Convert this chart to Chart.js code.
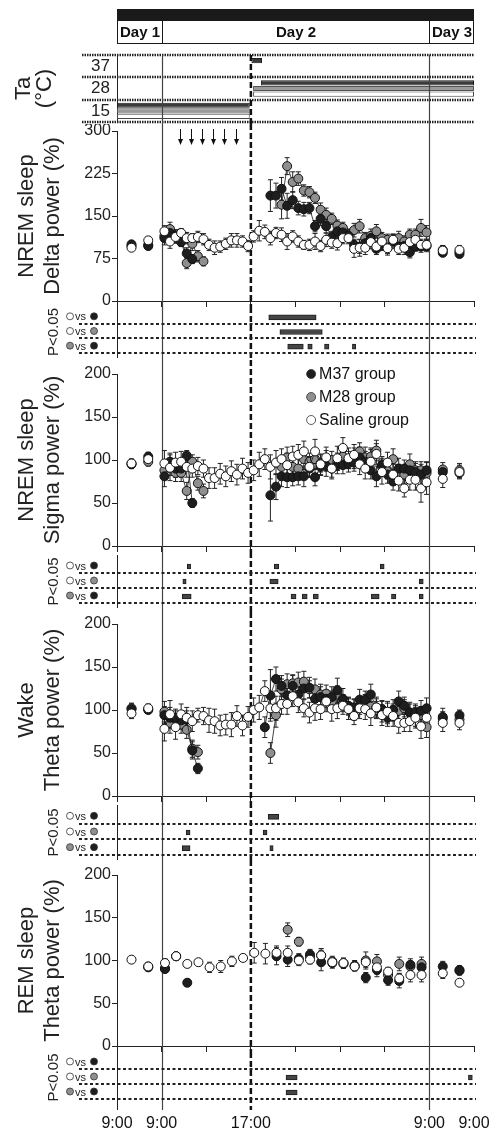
<!DOCTYPE html>
<html>
<head>
<meta charset="utf-8">
<script src="https://cdn.jsdelivr.net/npm/chart.js@4.4.1/dist/chart.umd.min.js"></script>
<style>
  html, body { margin: 0; padding: 0; background: #fff; }
  #wrap { position: relative; width: 496px; height: 1130px; overflow: hidden; }
  #wrap canvas { position: absolute; left: 0; }
</style>
</head>
<body>
<div id="wrap">
  <canvas id="taChart" width="496" height="124" style="top:0px"></canvas>
  <canvas id="deltaChart" width="496" height="183" style="top:124px"></canvas>
  <canvas id="deltaSig" width="496" height="53" style="top:307px"></canvas>
  <canvas id="sigmaChart" width="496" height="192" style="top:360px"></canvas>
  <canvas id="sigmaSig" width="496" height="60" style="top:552px"></canvas>
  <canvas id="wakeChart" width="496" height="190" style="top:612px"></canvas>
  <canvas id="wakeSig" width="496" height="58" style="top:802px"></canvas>
  <canvas id="remChart" width="496" height="192" style="top:860px"></canvas>
  <canvas id="remSig" width="496" height="78" style="top:1052px"></canvas>
</div>
<script>
const FONT = '"Liberation Sans", Arial, Helvetica, sans-serif';

// ---- time axis (hours from left edge; Day 1 / Day 3 compressed) ----
const day1Times = [1.3, 2.8];
const day3Times = [29.2, 30.7];
const halfHourStart = 4.25;   // first 30-min bin of Day 2
const remHourStart = 4.3;     // first 1-h bin of Day 2 (REM)
const dayBoundaries = [4, 28];
const lightsOff = 12;         // 17:00
const xTickHours = [0, 4, 12, 28, 32];
const xTickLabels = ['9:00', '9:00', '17:00', '9:00', '9:00'];
const arrowTimes = [5.65, 6.65, 7.6, 8.6, 9.6, 10.65];

// ---- ambient temperature bars ----
const taLabels = ['37', '28', '15'];
const taM37 = [[12.05, 13.0], [12.9, 32], [0, 11.9]];
const taM28 = [null, [12.2, 32], [0, 11.9]];
const taSaline = [null, [12.2, 32], [0, 11.9]];

// ---- NREM delta power (%) : day1 x2, day2 x48, day3 x2 ----
const deltaM37 = [
  100, 97,
  111, 120, 116, 104, 84, 74, null, null, null, null, null, null,
  null, null, null, null, null, null, null, 186, 186, 198, 168, 178,
  164, 162, 164, 132, 145, 132, 113, 123, 121, 115, 99, 96,
  102, 111, 92, 99, 94, 105, 96, 97, 86, 96, 96, 97,
  85, 83
];
const deltaM28 = [
  97, 99,
  115, 127, 112, 108, 67, 101, 79, 70, null, null, null, null,
  null, null, null, null, null, null, null, null, null, 170, 238, 210,
  216, 195, 192, 182, 161, 152, 145, 133, 129, 117, 125, 132,
  111, 115, 123, 111, 108, 108, 111, 105, 117, 117, 129, 121,
  90, 87
];
const deltaSaline = [
  94, 107,
  123, 105, 113, 120, 111, 111, 113, 109, 99, 94, 96, 101,
  107, 107, 105, 97, 114, 124, 122, 111, 120, 117, 105, 114,
  105, 99, 99, 105, 97, 108, 103, 102, 111, 111, 92, 94,
  94, 104, 96, 105, 93, 108, 92, 94, 104, 108, 99, 99,
  89, 90
];
const deltaM37Err = [
  6, 5,
  12, 10, 10, 8, 10, 8, 0, 0, 0, 0, 0, 0,
  0, 0, 0, 0, 0, 0, 0, 28, 22, 20, 22, 15,
  12, 12, 10, 10, 12, 12, 10, 12, 10, 10, 10, 12,
  12, 10, 10, 10, 10, 12, 10, 10, 10, 8, 10, 10,
  6, 6
];
const deltaM28Err = [
  5, 5,
  10, 12, 10, 10, 10, 12, 10, 8, 0, 0, 0, 0,
  0, 0, 0, 0, 0, 0, 0, 0, 0, 25, 15, 18,
  12, 10, 10, 10, 12, 12, 10, 10, 10, 10, 12, 12,
  10, 12, 12, 10, 10, 10, 12, 10, 10, 10, 15, 12,
  8, 6
];
const deltaSalineErr = [
  5, 5,
  10, 12, 10, 8, 10, 8, 10, 10, 10, 12, 10, 10,
  12, 12, 10, 10, 10, 18, 12, 12, 10, 12, 14, 10,
  10, 8, 10, 14, 10, 12, 10, 12, 10, 10, 15, 15,
  12, 12, 10, 12, 12, 10, 10, 12, 10, 12, 10, 10,
  8, 8
];

// ---- NREM sigma power (%) ----
const sigmaM37 = [
  95, 104,
  81, 98, 90, 90, 105, 50, null, null, null, null, null, null,
  null, null, null, null, null, null, null, 59, 69, 81, 80, 80,
  81, 81, 90, 80, 92, 93, 90, 94, 94, 96, 97, 103,
  98, 88, 81, 94, 83, 75, 90, 90, 88, 86, 83, 88,
  86, 85
];
const sigmaM28 = [
  96, 98,
  88, 92, 85, 85, 64, 98, 73, 64, null, null, null, null,
  null, null, null, null, null, null, null, null, null, 92, 103, 92,
  90, 101, 98, 101, 96, 99, 100, 98, 104, 100, 102, 110,
  103, 104, 111, 92, 88, 101, 85, 83, 95, 88, 88, 85,
  89, 88
];
const sigmaSaline = [
  96, 101,
  96, 91, 97, 98, 92, 90, 93, 90, 79, 79, 84, 81,
  87, 83, 90, 85, 88, 95, 101, 92, 97, 101, 94, 104,
  106, 110, 92, 110, 95, 103, 90, 102, 114, 102, 106, 95,
  90, 98, 107, 86, 97, 83, 76, 67, 77, 77, 67, 74,
  78, 86
];
const sigmaM37Err = [
  5, 5,
  12, 10, 10, 10, 6, 5, 0, 0, 0, 0, 0, 0,
  0, 0, 0, 0, 0, 0, 0, 30, 15, 12, 12, 10,
  10, 12, 10, 10, 10, 12, 10, 10, 10, 10, 10, 12,
  12, 10, 12, 10, 10, 10, 12, 10, 10, 10, 12, 10,
  6, 6
];
const sigmaM28Err = [
  5, 5,
  10, 10, 10, 10, 10, 8, 8, 8, 0, 0, 0, 0,
  0, 0, 0, 0, 0, 0, 0, 0, 0, 12, 12, 12,
  12, 12, 10, 12, 10, 12, 10, 10, 12, 10, 12, 10,
  12, 10, 12, 10, 10, 12, 10, 10, 12, 10, 10, 12,
  8, 8
];
const sigmaSalineErr = [
  5, 5,
  15, 15, 12, 12, 12, 10, 10, 10, 12, 12, 12, 12,
  12, 12, 12, 12, 12, 14, 12, 14, 14, 12, 14, 12,
  12, 12, 12, 14, 12, 12, 12, 14, 12, 12, 12, 12,
  12, 14, 12, 14, 12, 12, 12, 10, 12, 12, 16, 14,
  10, 8
];

// ---- Wake theta power (%) ----
const wakeM37 = [
  101, 100,
  94, 91, 91, 88, 89, 53, 32, null, null, null, null, null,
  null, null, null, null, null, null, 80, 117, 136, 128, 117, 128,
  118, 125, 126, 113, 115, 113, 115, 123, 113, 105, 103, 112,
  112, 118, 103, 101, 91, 100, 110, 105, 97, 97, 99, 102,
  92, 94
];
const wakeM28 = [
  102, 101,
  98, 85, 89, 83, 77, 55, 51, null, null, null, null, null,
  null, null, null, null, null, null, null, 50, 94, 124, 130, 131,
  132, 133, 124, 124, 118, 119, 110, 118, 108, 104, 100, 105,
  108, 104, 100, 98, 96, 97, 99, 102, 97, 93, 94, 80,
  90, 89
];
const wakeSaline = [
  96, 102,
  78, 95, 80, 95, 91, 87, 94, 93, 88, 87, 82, 83,
  83, 93, 82, 92, 100, 103, 122, 102, 102, 107, 107, 116,
  109, 102, 97, 102, 101, 110, 101, 102, 105, 101, 93, 102,
  101, 96, 103, 94, 98, 93, 85, 85, 87, 91, 81, 91,
  85, 85
];
const wakeM37Err = [
  6, 4,
  10, 12, 10, 10, 10, 10, 6, 0, 0, 0, 0, 0,
  0, 0, 0, 0, 0, 0, 12, 30, 14, 12, 12, 12,
  10, 12, 12, 10, 12, 10, 12, 14, 12, 10, 10, 12,
  10, 12, 10, 10, 10, 12, 12, 10, 10, 10, 12, 12,
  10, 6
];
const wakeM28Err = [
  6, 4,
  12, 12, 10, 10, 10, 10, 8, 0, 0, 0, 0, 0,
  0, 0, 0, 0, 0, 0, 0, 12, 14, 12, 12, 10,
  12, 12, 10, 12, 12, 10, 12, 10, 10, 10, 12, 10,
  10, 12, 10, 12, 12, 10, 10, 10, 12, 12, 10, 12,
  8, 8
];
const wakeSalineErr = [
  6, 5,
  14, 16, 14, 12, 12, 12, 8, 10, 14, 14, 12, 12,
  14, 12, 12, 12, 14, 14, 12, 12, 14, 12, 12, 12,
  12, 10, 12, 14, 12, 12, 14, 12, 10, 12, 10, 12,
  12, 14, 12, 12, 12, 12, 12, 10, 12, 12, 14, 14,
  10, 8
];

// ---- REM theta power (%) : day1 x2, day2 x24 (1 h), day3 x2 ----
const remM37 = [
  null, 92,
  90, 105, 74, null, null, null, null, null, null, null, 105, 101,
  102, 107, 98, 97, 96, 93, 80, 89, 77, 76, 95, 92,
  93, 88
];
const remM28 = [
  null, 93,
  91, 105, null, null, null, null, null, null, null, null, null, 136,
  122, 105, 106, 99, 97, 94, 100, 99, 83, 96, 93, 96,
  null, 89
];
const remSaline = [
  101, 93,
  97, 105, 96, 98, 92, 93, 99, 103, 109, 108, 109, 109,
  100, 101, 106, 98, 97, 93, 98, 92, 87, 79, 83, 83,
  85, 74
];
const remM37Err = [
  0, 4,
  4, 4, 4, 0, 0, 0, 0, 0, 0, 0, 10, 8,
  6, 6, 10, 6, 5, 5, 6, 8, 6, 8, 7, 6,
  6, 5
];
const remM28Err = [
  0, 4,
  4, 4, 0, 0, 0, 0, 0, 0, 0, 0, 0, 8,
  5, 6, 8, 6, 6, 6, 10, 8, 6, 8, 6, 8,
  0, 5
];
const remSalineErr = [
  4, 4,
  5, 4, 4, 4, 6, 7, 6, 4, 12, 12, 8, 8,
  6, 5, 6, 5, 5, 5, 6, 8, 5, 6, 8, 8,
  6, 4
];

// ---- P<0.05 intervals (hours) ----
const sigRows = ['Saline vs M37', 'Saline vs M28', 'M28 vs M37'];
const deltaSigSalVsM37 = [[13.6, 17.85]];
const deltaSigSalVsM28 = [[14.6, 18.4]];
const deltaSigM28VsM37 = [[15.3, 16.7], [17.1, 17.5], [18.6, 19.0], [21.1, 21.4]];
const sigmaSigSalVsM37 = [[6.3, 6.6], [14.1, 14.5], [23.6, 23.95]];
const sigmaSigSalVsM28 = [[5.9, 6.2], [13.7, 14.45], [27.1, 27.45]];
const sigmaSigM28VsM37 = [[5.85, 6.65], [15.6, 16.05], [16.6, 17.05], [17.6, 18.05], [22.8, 23.5], [24.6, 25.0], [27.1, 27.45]];
const wakeSigSalVsM37 = [[13.55, 14.5]];
const wakeSigSalVsM28 = [[6.2, 6.55], [13.1, 13.45]];
const wakeSigM28VsM37 = [[5.85, 6.55], [13.7, 14.0]];
const remSigSalVsM37 = [];
const remSigSalVsM28 = [[15.15, 16.15], [31.5, 31.85]];
const remSigM28VsM37 = [[15.15, 16.15]];

const groupNames = ['M37 group', 'M28 group', 'Saline group'];
const BLACK = '#1e1e1e', GRAY = '#8f8f8f', WHITE = '#ffffff';
const pairFills = [[WHITE, BLACK], [WHITE, GRAY], [GRAY, BLACK]];

Chart.defaults.font.family = FONT;
Chart.defaults.color = '#222';
Chart.defaults.animation = false;
Chart.defaults.responsive = false;
Chart.defaults.events = [];
Chart.defaults.plugins.legend.display = false;
Chart.defaults.plugins.tooltip.enabled = false;

const halfHourTimes = Array.from({length: 48}, (_, i) => halfHourStart + 0.5 * i);
const hourTimes = Array.from({length: 24}, (_, i) => remHourStart + i);
const mainTimes = [...day1Times, ...halfHourTimes, ...day3Times];
const remTimes = [...day1Times, ...hourTimes, ...day3Times];

// fixed-width left axis, no extra label padding, so every panel lines up
function fixLeftAxis(s) {
  s.width = 117;
  s.paddingTop = 0;
  s.paddingBottom = 0;
}

// points with breaks so Day 1 / Day 3 points stay unconnected
function toPoints(times, values, errors) {
  const pts = [];
  times.forEach((t, k) => {
    pts.push({x: t, y: values[k], e: errors[k]});
    if (k < 2 || k >= times.length - 3) pts.push({x: t + 0.05, y: null, e: 0});
  });
  return pts;
}

function series(label, times, values, errors, fill, order, showLine) {
  return {
    label: label,
    data: toPoints(times, values, errors),
    order: order,
    showLine: showLine,
    borderColor: '#111',
    borderWidth: 0.8,
    pointRadius: 4.5,
    pointBackgroundColor: fill,
    pointBorderColor: '#111',
    pointBorderWidth: 1,
    spanGaps: false,
    tension: 0
  };
}

function dot(ctx, x, y, r, fill) {
  ctx.beginPath();
  ctx.arc(x, y, r, 0, Math.PI * 2);
  ctx.fillStyle = fill;
  ctx.fill();
  ctx.lineWidth = 0.8;
  ctx.strokeStyle = '#333';
  ctx.stroke();
}

// vertical day boundaries and the dashed 17:00 line
function verticalLines(fromArea, bottom, after) {
  const draw = (chart) => {
    const {ctx, chartArea: a} = chart;
    const x = chart.scales.x;
    const y0 = fromArea ? a.top : 0;
    const y1 = bottom != null ? bottom : chart.height;
    ctx.save();
    ctx.strokeStyle = '#444';
    ctx.lineWidth = 1.2;
    dayBoundaries.forEach(t => {
      const px = Math.round(x.getPixelForValue(t)) + 0.5;
      ctx.beginPath(); ctx.moveTo(px, y0); ctx.lineTo(px, y1); ctx.stroke();
    });
    ctx.strokeStyle = '#111';
    ctx.lineWidth = 2.5;
    ctx.setLineDash([6, 3]);
    const dx = x.getPixelForValue(lightsOff);
    ctx.beginPath(); ctx.moveTo(dx, y0); ctx.lineTo(dx, y1); ctx.stroke();
    ctx.restore();
  };
  return after ? {id: 'vlines', afterDatasetsDraw: draw} : {id: 'vlines', beforeDatasetsDraw: draw};
}

const errorBars = {
  id: 'errorBars',
  beforeDatasetsDraw(chart) {
    const {ctx} = chart;
    const ys = chart.scales.y;
    ctx.save();
    ctx.strokeStyle = '#222';
    ctx.lineWidth = 1;
    chart.data.datasets.forEach((ds, i) => {
      const meta = chart.getDatasetMeta(i);
      ds.data.forEach((p, j) => {
        if (p.y == null || !p.e) return;
        const el = meta.data[j];
        if (!el) return;
        const px = el.x;
        const t = ys.getPixelForValue(p.y + p.e);
        const b = ys.getPixelForValue(p.y - p.e);
        ctx.beginPath();
        ctx.moveTo(px, t); ctx.lineTo(px, b);
        ctx.moveTo(px - 2.5, t); ctx.lineTo(px + 2.5, t);
        ctx.moveTo(px - 2.5, b); ctx.lineTo(px + 2.5, b);
        ctx.stroke();
      });
    });
    ctx.restore();
  }
};

const xMain = {
  type: 'linear', min: 0, max: 32,
  ticks: {display: false, stepSize: 4},
  grid: {drawOnChartArea: false, tickLength: 6, color: '#222'},
  border: {color: '#222'},
  afterFit(s) { s.height = 6; }
};

function yMain(lines, max, step) {
  return {
    min: 0, max: max,
    ticks: {stepSize: step, font: {size: 16}, padding: 1, color: '#222'},
    grid: {drawOnChartArea: false, tickLength: 5, color: '#222'},
    border: {color: '#222'},
    title: {display: true, text: lines, color: '#222', font: {size: 22, lineHeight: 1.18}, padding: {top: 14, bottom: 0}},
    afterFit: fixLeftAxis
  };
}

function mainPanel(id, lines, max, step, sets, padTop, extra) {
  return new Chart(document.getElementById(id), {
    type: 'line',
    data: {datasets: sets},
    options: {
      layout: {padding: {left: 0, right: 22, top: padTop, bottom: 0}},
      scales: {x: xMain, y: yMain(lines, max, step)}
    },
    plugins: [verticalLines(false, null, false), errorBars].concat(extra || [])
  });
}

function sigPanel(id, rows, padTop, padBottom, lastPanel) {
  const n = Math.max(1, ...rows.map(r => r.length));
  const sets = [];
  for (let k = 0; k < n; k++) {
    sets.push({
      data: rows.map(r => r[k] || null),
      backgroundColor: '#454545',
      borderColor: '#1e1e1e',
      borderWidth: 1,
      borderSkipped: false,
      barThickness: 5,
      grouped: false
    });
  }
  const x = lastPanel ? {
    type: 'linear', min: 0, max: 32,
    afterBuildTicks(s) { s.ticks = xTickHours.map(v => ({value: v})); },
    ticks: {
      autoSkip: false, maxRotation: 0, padding: 14, color: '#111', font: {size: 16},
      callback: (v) => xTickLabels[xTickHours.indexOf(v)]
    },
    grid: {display: false, drawTicks: false},
    border: {display: false},
    afterFit(s) { s.height = 30; s.paddingLeft = 0; s.paddingRight = 0; }
  } : {type: 'linear', min: 0, max: 32, display: false};

  const extendBottom = lastPanel ? 10 : 4;
  const decor = {
    id: 'sigDecor',
    beforeDatasetsDraw(chart) {
      const {ctx, chartArea: a} = chart;
      const h = (a.bottom - a.top) / 3;
      ctx.save();
      ctx.strokeStyle = '#222';
      ctx.lineWidth = 1;
      ctx.beginPath();
      ctx.moveTo(a.left + 0.5, a.top - 4);
      ctx.lineTo(a.left + 0.5, a.bottom + extendBottom);
      ctx.stroke();
      ctx.setLineDash([3, 2.5]);
      ctx.lineWidth = 2;
      for (let k = 1; k <= 3; k++) {
        const y = Math.round(a.top + h * k) - 1;
        ctx.beginPath(); ctx.moveTo(a.left - 38, y); ctx.lineTo(a.right + 2, y); ctx.stroke();
      }
      ctx.setLineDash([]);
      pairFills.forEach((pair, k) => {
        const cy = a.top + h * (k + 0.5) - 1;
        dot(ctx, a.left - 47, cy, 3.5, pair[0]);
        ctx.fillStyle = '#222';
        ctx.font = '11px ' + FONT;
        ctx.textAlign = 'left';
        ctx.textBaseline = 'middle';
        ctx.fillText('vs', a.left - 42, cy + 1);
        dot(ctx, a.left - 23, cy, 3.5, pair[1]);
      });
      ctx.restore();
    }
  };

  return new Chart(document.getElementById(id), {
    type: 'bar',
    data: {labels: sigRows, datasets: sets},
    options: {
      indexAxis: 'y',
      layout: {padding: {left: 0, right: 22, top: padTop, bottom: padBottom}},
      scales: {
        x: x,
        y: {
          type: 'category', offset: true,
          ticks: {display: false},
          grid: {display: false},
          border: {display: true, color: '#222'},
          title: {display: true, text: 'P<0.05', color: '#222', font: {size: 15, lineHeight: 1.2}, padding: {top: 45, bottom: 0}},
          afterFit: fixLeftAxis
        }
      }
    },
    plugins: [verticalLines(false, lastPanel ? 58 : null, false), decor]
  });
}

// ---------- Ta panel with the day header ----------
const header = {
  id: 'dayHeader',
  afterDraw(chart) {
    const {ctx} = chart;
    const x = chart.scales.x;
    const l = Math.round(x.getPixelForValue(0)) + 0.5;
    const r = Math.round(x.getPixelForValue(32)) - 0.5;
    const edges = [0, 4, 28, 32].map(t => Math.round(x.getPixelForValue(t)) + 0.5);
    ctx.save();
    ctx.fillStyle = '#1a1a1a';
    ctx.fillRect(l - 0.5, 9, r - l + 1, 11);
    ctx.strokeStyle = '#1a1a1a';
    ctx.lineWidth = 1;
    ctx.strokeRect(l, 20.5, r - l, 23);
    [edges[1], edges[2]].forEach(px => {
      ctx.beginPath(); ctx.moveTo(px, 20); ctx.lineTo(px, 44); ctx.stroke();
    });
    ctx.fillStyle = '#111';
    ctx.font = 'bold 15px ' + FONT;
    ctx.textAlign = 'center';
    ctx.textBaseline = 'middle';
    ['Day 1', 'Day 2', 'Day 3'].forEach((t, k) => {
      ctx.fillText(t, (edges[k] + edges[k + 1]) / 2, 33);
    });
    ctx.restore();
  }
};

const taRows = {
  id: 'taRows',
  beforeDatasetsDraw(chart) {
    const {ctx, chartArea: a} = chart;
    const h = (a.bottom - a.top) / 3;
    ctx.save();
    ctx.strokeStyle = '#222';
    ctx.lineWidth = 2.5;
    ctx.setLineDash([1.5, 1]);
    for (let k = 0; k <= 3; k++) {
      const y = Math.round(a.top + h * k);
      ctx.beginPath(); ctx.moveTo(a.left - 35, y); ctx.lineTo(a.right, y); ctx.stroke();
    }
    ctx.restore();
  }
};

function taSet(data, fill, border) {
  return {
    data: data, backgroundColor: fill, borderColor: border, borderWidth: 1,
    borderSkipped: false, categoryPercentage: 0.75, barPercentage: 0.92
  };
}

new Chart(document.getElementById('taChart'), {
  type: 'bar',
  data: {
    labels: taLabels,
    datasets: [taSet(taM37, '#3a3a3a', '#1a1a1a'), taSet(taM28, '#9a9a9a', '#555'), taSet(taSaline, '#ffffff', '#444')]
  },
  options: {
    indexAxis: 'y',
    layout: {padding: {left: 0, right: 22, top: 55, bottom: 2}},
    scales: {
      x: {type: 'linear', min: 0, max: 32, display: false},
      y: {
        type: 'category', offset: true,
        ticks: {font: {size: 17, lineHeight: 1}, padding: 7, color: '#222', autoSkip: false},
        grid: {display: false, drawTicks: false},
        border: {color: '#222'},
        title: {display: true, text: ['Ta', '(°C)'], color: '#222', font: {size: 22, lineHeight: 0.98}, padding: {top: 13, bottom: 0}},
        afterFit: fixLeftAxis
      }
    }
  },
  plugins: [taRows, verticalLines(true, null, true), header]
});

// ---------- data panels ----------
const arrows = {
  id: 'arrows',
  afterDraw(chart) {
    const {ctx, chartArea: a} = chart;
    const x = chart.scales.x;
    ctx.save();
    ctx.strokeStyle = '#111';
    ctx.fillStyle = '#111';
    ctx.lineWidth = 1;
    arrowTimes.forEach(t => {
      const px = Math.round(x.getPixelForValue(t)) + 0.5;
      ctx.beginPath(); ctx.moveTo(px, a.top - 2); ctx.lineTo(px, a.top + 9); ctx.stroke();
      ctx.beginPath();
      ctx.moveTo(px - 2.5, a.top + 8); ctx.lineTo(px + 2.5, a.top + 8); ctx.lineTo(px, a.top + 14);
      ctx.closePath(); ctx.fill();
    });
    ctx.restore();
  }
};

const groupLegend = {
  id: 'groupLegend',
  afterDraw(chart) {
    const {ctx, chartArea: a} = chart;
    const cx = chart.scales.x.getPixelForValue(17.4);
    const fills = [BLACK, GRAY, WHITE];
    ctx.save();
    groupNames.forEach((name, k) => {
      const cy = a.top + k * 23;
      dot(ctx, cx, cy, 4.5, fills[k]);
      ctx.fillStyle = '#111';
      ctx.font = '16px ' + FONT;
      ctx.textAlign = 'left';
      ctx.textBaseline = 'middle';
      ctx.fillText(name, cx + 8, cy + 1);
    });
    ctx.restore();
  }
};

function groupSets(times, m37, m28, sal, e37, e28, eSal, showLine) {
  return [
    series('Saline group', times, sal, eSal, WHITE, 0, showLine),
    series('M37 group', times, m37, e37, BLACK, 1, showLine),
    series('M28 group', times, m28, e28, GRAY, 2, showLine)
  ];
}

mainPanel('deltaChart', ['NREM sleep', 'Delta power (%)'], 300, 75,
  groupSets(mainTimes, deltaM37, deltaM28, deltaSaline, deltaM37Err, deltaM28Err, deltaSalineErr, true), 7, [arrows]);
sigPanel('deltaSig', [deltaSigSalVsM37, deltaSigSalVsM28, deltaSigM28VsM37], 3, 6, false);

mainPanel('sigmaChart', ['NREM sleep', 'Sigma power (%)'], 200, 50,
  groupSets(mainTimes, sigmaM37, sigmaM28, sigmaSaline, sigmaM37Err, sigmaM28Err, sigmaSalineErr, true), 14, [groupLegend]);
sigPanel('sigmaSig', [sigmaSigSalVsM37, sigmaSigSalVsM28, sigmaSigM28VsM37], 7, 8, false);

mainPanel('wakeChart', ['Wake', 'Theta power (%)'], 200, 50,
  groupSets(mainTimes, wakeM37, wakeM28, wakeSaline, wakeM37Err, wakeM28Err, wakeSalineErr, true), 12);
sigPanel('wakeSig', [wakeSigSalVsM37, wakeSigSalVsM28, wakeSigM28VsM37], 7, 4, false);

mainPanel('remChart', ['REM sleep', 'Theta power (%)'], 200, 50,
  groupSets(remTimes, remM37, remM28, remSaline, remM37Err, remM28Err, remSalineErr, false), 15);
sigPanel('remSig', [remSigSalVsM37, remSigSalVsM28, remSigM28VsM37], 3, 0, true);
</script>
</body>
</html>
